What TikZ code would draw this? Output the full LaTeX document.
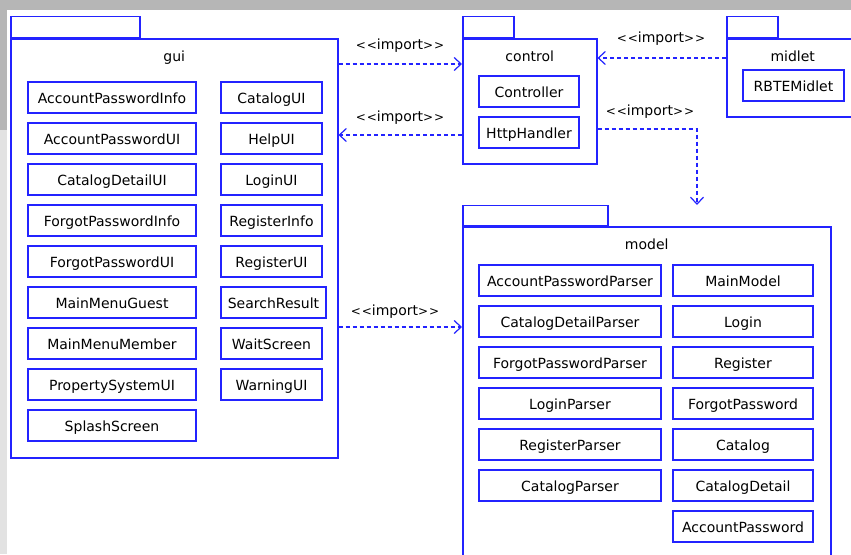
\documentclass[tikz,border=0pt]{standalone}
\usepackage{fontspec}
\newfontfamily\uifont{DejaVu Sans}
\usetikzlibrary{arrows.meta}
\definecolor{umlblue}{RGB}{35,35,255}
\definecolor{bgband}{RGB}{182,182,182}
\definecolor{bgside}{RGB}{226,226,226}
\tikzset{
  uitext/.style={font=\uifont\fontsize{14pt}{16pt}\selectfont, text=black},
  pkg/.style={draw=umlblue, line width=1.5pt, inner sep=0pt},
  pkgname/.style={uitext, anchor=base, inner sep=0pt},
  cls/.style={draw=umlblue, line width=1.4pt, uitext, inner sep=0pt,
    minimum height=31pt, text height=14pt, text depth=3pt},
  imp/.style={draw=umlblue, line width=1.2pt, dash pattern=on 4pt off 3pt,
    -{Straight Barb[length=7pt,width=13pt,line width=1.2pt]}},
  implabel/.style={uitext, anchor=base, inner sep=0pt},
}
% stereotype brackets, set a little smaller than the word itself
\newcommand{\sbr}[1]{{\fontsize{12pt}{14pt}\selectfont#1}}
\newcommand{\impt}{\sbr{<}\kern1pt\sbr{<}import\sbr{>}\kern1pt\sbr{>}}
\begin{document}
\begin{tikzpicture}[x=1pt,y=-1pt]
\useasboundingbox (0,0) rectangle (851,554);
\clip (0,0) rectangle (851,554);
% page background
\fill[white] (0,0) rectangle (851,554);
\fill[bgband] (0,0) rectangle (851,10);
\fill[bgband] (0,10) rectangle (7,130);
\fill[bgside] (0,130) rectangle (7,554);

% ---------- package gui ----------
\node[pkg, anchor=north west, minimum width=327pt, minimum height=419pt] (gui) at (10,38) {};
\node[pkg, anchor=south west, minimum width=129pt, minimum height=21pt] (guitab) at (gui.north west) {};
\node[pkgname] (guiname) at ([yshift=-23pt]gui.north) {gui};
\node[cls, minimum width=168pt] (c1) at (112,97.5)  {AccountPasswordInfo};
\node[cls, minimum width=168pt] (c2) at (112,138.5) {AccountPasswordUI};
\node[cls, minimum width=168pt] (c3) at (112,179.5) {CatalogDetailUI};
\node[cls, minimum width=168pt] (c4) at (112,220.5) {ForgotPasswordInfo};
\node[cls, minimum width=168pt] (c5) at (112,261.5) {ForgotPasswordUI};
\node[cls, minimum width=168pt] (c6) at (112,302.5) {MainMenuGuest};
\node[cls, minimum width=168pt] (c7) at (112,343.5) {MainMenuMember};
\node[cls, minimum width=168pt] (c8) at (112,384.5) {PropertySystemUI};
\node[cls, minimum width=168pt] (c9) at (112,425.5) {SplashScreen};
\node[cls, minimum width=101pt] (d1) at (271.5,97.5)  {CatalogUI};
\node[cls, minimum width=101pt] (d2) at (271.5,138.5) {HelpUI};
\node[cls, minimum width=101pt] (d3) at (271.5,179.5) {LoginUI};
\node[cls, minimum width=101pt] (d4) at (271.5,220.5) {RegisterInfo};
\node[cls, minimum width=101pt] (d5) at (271.5,261.5) {RegisterUI};
\node[cls, minimum width=105pt] (d6) at (273.5,302.5) {SearchResult};
\node[cls, minimum width=101pt] (d7) at (271.5,343.5) {WaitScreen};
\node[cls, minimum width=101pt] (d8) at (271.5,384.5) {WarningUI};

% ---------- package control ----------
\node[pkg, anchor=north west, minimum width=134pt, minimum height=125pt] (ctrl) at (462,38) {};
\node[pkg, anchor=south west, minimum width=51pt, minimum height=21pt] (ctrltab) at (ctrl.north west) {};
\node[pkgname] (ctrlname) at ([yshift=-23pt]ctrl.north) {control};
\node[cls, minimum width=100pt] (k1) at (529,91.5)  {Controller};
\node[cls, minimum width=100pt] (k2) at (529,132.5) {HttpHandler};

% ---------- package midlet ----------
\node[pkg, anchor=north west, minimum width=132pt, minimum height=78pt] (midlet) at (726,38) {};
\node[pkg, anchor=south west, minimum width=51pt, minimum height=21pt] (midtab) at (midlet.north west) {};
\node[pkgname] (midname) at ([yshift=-23pt]midlet.north) {midlet};
\node[cls, minimum width=101pt] (r1) at (793.5,85.5) {RBTEMidlet};

% ---------- package model ----------
\node[pkg, anchor=north west, minimum width=368pt, minimum height=345pt] (model) at (462,226) {};
\node[pkg, anchor=south west, minimum width=145pt, minimum height=20pt] (modtab) at (model.north west) {};
\node[pkgname] (modname) at ([yshift=-23pt]model.north) {model};
\node[cls, minimum width=182pt] (p1) at (570,280.5) {AccountPasswordParser};
\node[cls, minimum width=182pt] (p2) at (570,321.5) {CatalogDetailParser};
\node[cls, minimum width=182pt] (p3) at (570,362.5) {ForgotPasswordParser};
\node[cls, minimum width=182pt] (p4) at (570,403.5) {LoginParser};
\node[cls, minimum width=182pt] (p5) at (570,444.5) {RegisterParser};
\node[cls, minimum width=182pt] (p6) at (570,485.5) {CatalogParser};
\node[cls, minimum width=140pt] (m1) at (743,280.5) {MainModel};
\node[cls, minimum width=140pt] (m2) at (743,321.5) {Login};
\node[cls, minimum width=140pt] (m3) at (743,362.5) {Register};
\node[cls, minimum width=140pt] (m4) at (743,403.5) {ForgotPassword};
\node[cls, minimum width=140pt] (m5) at (743,444.5) {Catalog};
\node[cls, minimum width=140pt] (m6) at (743,485.5) {CatalogDetail};
\node[cls, minimum width=140pt] (m7) at (743,526.5) {AccountPassword};

% ---------- import dependencies ----------
\coordinate (mtip) at (697,205);
\draw[imp] (gui.east |- 0,64) -- (ctrl.west |- 0,64);
\draw[imp] (ctrl.west |- 0,135) -- (gui.east |- 0,135);
\draw[imp] (midlet.west |- 0,58) -- (ctrl.east |- 0,58);
\draw[imp] (ctrl.east |- 0,129) -| (mtip);
\draw[imp] (gui.east |- 0,327) -- (model.west |- 0,327);

\node[implabel] (l1) at (400,49)  {\impt};
\node[implabel] (l2) at (400,121.5) {\impt};
\node[implabel] (l3) at (661,42)  {\impt};
\node[implabel] (l4) at (650,115) {\impt};
\node[implabel] (l5) at (395,315) {\impt};
\end{tikzpicture}
\end{document}
